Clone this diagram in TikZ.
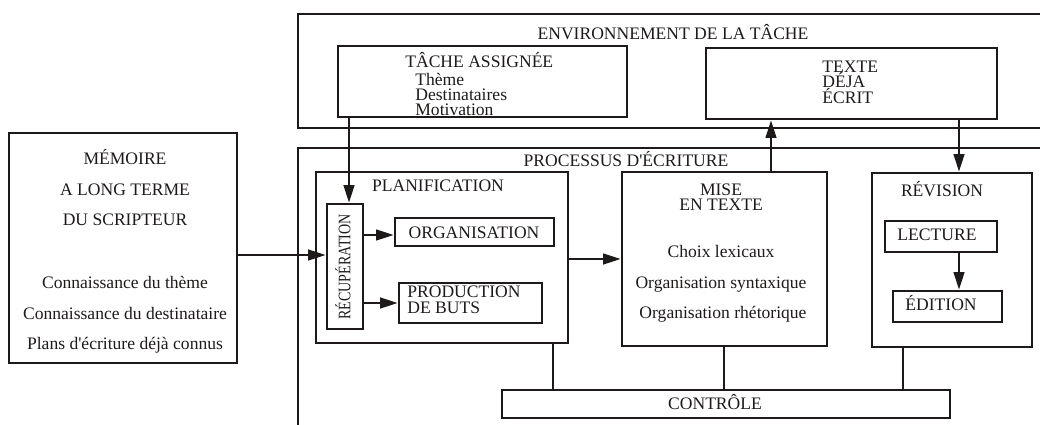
\documentclass[tikz,border=0pt]{standalone}
\usepackage{fontspec}
\setmainfont{Liberation Serif}
\usepackage{graphicx}
\usetikzlibrary{fit,arrows.meta}
\definecolor{ink}{RGB}{30,26,26}
\begin{document}
\begin{tikzpicture}[x=0.02cm,y=-0.02cm,
  box/.style={draw=ink, line width=1.4pt, inner sep=0pt},
  lbl/.style={inner sep=0pt, text=ink, text height=6.2pt, text depth=0pt,
              font=\fontsize{10}{12}\selectfont},
  arr/.style={draw=ink, line width=1.4pt, -{Triangle[length=10pt,width=6pt]}},
  ln/.style={draw=ink, line width=1.4pt}]
\useasboundingbox (0,0) rectangle (1040,425);
% outer frames (cut by the picture's edge)
\begin{scope}
  \clip (0,0) rectangle (1040,425);
  \node[box, fit={(298,14) (1070,128)}] (env) {};
  \node[box, fit={(298,148) (1070,450)}] (proc) {};
\end{scope}
\node[lbl] (envt) at (673,34) {ENVIRONNEMENT DE LA TÂCHE};
\node[lbl] (proct) at (626,161) {PROCESSUS D\textquotesingle ÉCRITURE};

% memory
\node[box, fit={(9,133) (237,363)}] (mem) {};
\node[lbl] (mem1) at (125,159) {MÉMOIRE};
\node[lbl] (mem2) at (125,190) {A LONG TERME};
\node[lbl] (mem3) at (125,220) {DU SCRIPTEUR};
\node[lbl] (mem4) at (125,283) {Connaissance du thème};
\node[lbl] (mem5) at (125,314) {Connaissance du destinataire};
\node[lbl] (mem6) at (125,344) {Plans d\textquotesingle écriture déjà connus};

% task environment
\node[box, fit={(338,46) (627,117)}] (ta) {};
\node[lbl, anchor=west] (tat) at (405,62) {TÂCHE ASSIGNÉE};
\node[lbl, anchor=west] (ta1) at (415,80) {Thème};
\node[lbl, anchor=west] (ta2) at (415,95) {Destinataires};
\node[lbl, anchor=west] (ta3) at (415,110) {Motivation};

\node[box, fit={(706,48) (997,119)}] (txt) {};
\node[lbl, anchor=west] (txt1) at (822,67) {TEXTE};
\node[lbl, anchor=west] (txt2) at (822,82) {DÉJA};
\node[lbl, anchor=west] (txt3) at (822,98) {ÉCRIT};

% planification
\node[box, fit={(316,172) (568,343)}] (plan) {};
\node[lbl] (plant) at (438,186) {PLANIFICATION};
\node[box, fit={(327,204) (363,329)}] (rec) {};
\node[lbl, rotate=90] (rect) at (345,267) {\scalebox{0.8}[1]{RÉCUPÉRATION}};
\node[box, fit={(395,218) (554,246)}] (org) {};
\node[lbl] (orgt) at (474,233) {ORGANISATION};
\node[box, fit={(399,283) (542,323)}] (prod) {};
\node[lbl, anchor=west] (prod1) at (407,292) {PRODUCTION};
\node[lbl, anchor=west] (prod2) at (407,308) {DE BUTS};

% mise en texte
\node[box, fit={(622,172) (827,346)}] (mise) {};
\node[lbl] (mise1) at (721,190) {MISE};
\node[lbl] (mise2) at (721,205) {EN TEXTE};
\node[lbl] (mise3) at (721,252) {Choix lexicaux};
\node[lbl] (mise4) at (721,283) {Organisation syntaxique};
\node[lbl] (mise5) at (723,313) {Organisation rhétorique};

% revision
\node[box, fit={(872,173) (1032,347)}] (rev) {};
\node[lbl] (revt) at (942,191) {RÉVISION};
\node[box, fit={(885,221) (997,252)}] (lec) {};
\node[lbl] (lect) at (937,235) {LECTURE};
\node[box, fit={(893,291) (1002,322)}] (edi) {};
\node[lbl] (edit) at (941,305) {ÉDITION};

% control
\node[box, fit={(502,390) (950,418)}] (ctl) {};
\node[lbl] (ctlt) at (715,404) {CONTRÔLE};

% connectors
\coordinate (c1) at (349,0);
\coordinate (c2) at (0,255);
\coordinate (c3) at (0,235);
\coordinate (c4) at (0,303);
\coordinate (c5) at (0,259);
\coordinate (c6) at (771,0);
\coordinate (c7) at (959,0);
\coordinate (c8) at (553,0);
\coordinate (c9) at (724,0);
\coordinate (c10) at (903,0);
\draw[arr] (ta.south -| c1) -- (rec.north -| c1);
\draw[arr] (mem.east |- c2) -- (rec.west |- c2);
\draw[arr] (rec.east |- c3) -- (org.west |- c3);
\draw[arr] (rec.east |- c4) -- (prod.west |- c4);
\draw[arr] (plan.east |- c5) -- (mise.west |- c5);
\draw[arr] (mise.north -| c6) -- (txt.south -| c6);
\draw[arr] (txt.south -| c7) -- (rev.north -| c7);
\draw[arr] (lec.south -| c7) -- (edi.north -| c7);
\draw[ln] (plan.south -| c8) -- (ctl.north -| c8);
\draw[ln] (mise.south -| c9) -- (ctl.north -| c9);
\draw[ln] (rev.south -| c10) -- (ctl.north -| c10);
\end{tikzpicture}
\end{document}
